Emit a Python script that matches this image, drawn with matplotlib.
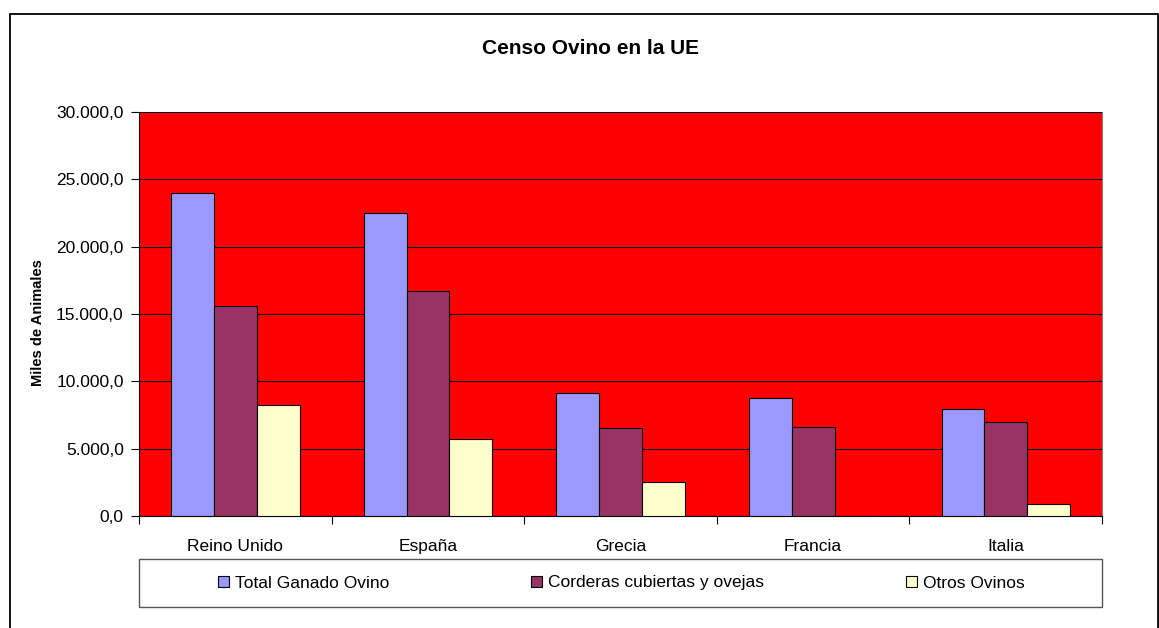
import numpy as np
import matplotlib
matplotlib.use("Agg")
import matplotlib.pyplot as plt
from matplotlib.patches import Rectangle, Patch
from matplotlib.ticker import FuncFormatter, FixedLocator

plt.rcParams['font.family'] = ['Liberation Sans', 'DejaVu Sans']

# ------------------ data ------------------
paises = ["Reino Unido", "España", "Grecia", "Francia", "Italia"]
total_ovino = [23980, 22500, 9110, 8740, 7930]
corderas = [15630, 16720, 6540, 6640, 7010]
otros_ovinos = [8270, 5730, 2490, 0, 860]
series_names = ["Total Ganado Ovino", "Corderas cubiertas y ovejas", "Otros Ovinos"]
colors = ["#9999FF", "#993366", "#FFFFCC"]

W, H = 1159, 628
fig = plt.figure(figsize=(W/100, H/100), dpi=100)

# plot area in pixels: x 139..1102, y 112..516
ax = fig.add_axes([139/W, 1-516/H, (1102-139)/W, (516-112)/H])
ax.set_facecolor("#FF0000")

x = np.arange(len(paises))
w = 1/4.5
for k, vals in enumerate([total_ovino, corderas, otros_ovinos]):
    ax.bar(x + (k-1)*w, vals, width=w, color=colors[k], edgecolor="black",
           linewidth=0.8, zorder=3)

ax.set_xlim(-0.5, len(paises)-0.5)
ax.set_ylim(0, 30000)
ax.set_yticks(np.arange(0, 30001, 5000))

def fmt(v, pos):
    s = f"{v:,.1f}"
    return s.replace(",", "X").replace(".", ",").replace("X", ".")
ax.yaxis.set_major_formatter(FuncFormatter(fmt))
ax.yaxis.grid(True, color="black", linewidth=0.8, zorder=1)
ax.set_axisbelow(True)

ax.set_xticks(x)
ax.set_xticklabels(paises, fontsize=12.5)
ax.xaxis.set_minor_locator(FixedLocator(np.arange(-0.5, len(paises), 1.0)))
ax.tick_params(axis="x", which="major", length=0, pad=16.5)
ax.tick_params(axis="x", which="minor", length=6, width=0.8, direction="out")
ax.tick_params(axis="y", length=6, width=0.8, direction="out", pad=5, labelsize=12.5)

ax.spines["top"].set_visible(False)
ax.spines["right"].set_color("#808080")
ax.spines["left"].set_color("black")
ax.spines["bottom"].set_color("black")
for s in ax.spines.values():
    s.set_linewidth(0.8)

fig.text(590/W, 1-49/H, "Censo Ovino en la UE", fontsize=15, fontweight="bold",
         ha="center", va="center")
fig.text(38/W, 1-323/H, "Miles de Animales", fontsize=10.5, fontweight="bold",
         rotation=90, ha="center", va="center")

# legend box
fig.patches.append(Rectangle((139/W, 1-607/H), (1102-139)/W, (607-559)/H,
                             transform=fig.transFigure, facecolor="white",
                             edgecolor="#555555", linewidth=1.0))
handles = [Patch(facecolor=c, edgecolor="black", linewidth=0.8) for c in colors]
fig.legend(handles, series_names, ncol=3, mode="expand", frameon=False,
           bbox_to_anchor=(218/W, 1-600/H, (1025-218)/W, 34/H), loc="center",
           fontsize=12.5, handlelength=0.65, handleheight=0.65, handletextpad=0.35,
           borderpad=0, borderaxespad=0)

# outer chart border
fig.patches.append(Rectangle((9.5/W, -0.1), (1158-9.5)/W, 1.1-14/H,
                             transform=fig.transFigure, fill=False,
                             edgecolor="black", linewidth=1.3))

fig.savefig("out.png", dpi=100)
